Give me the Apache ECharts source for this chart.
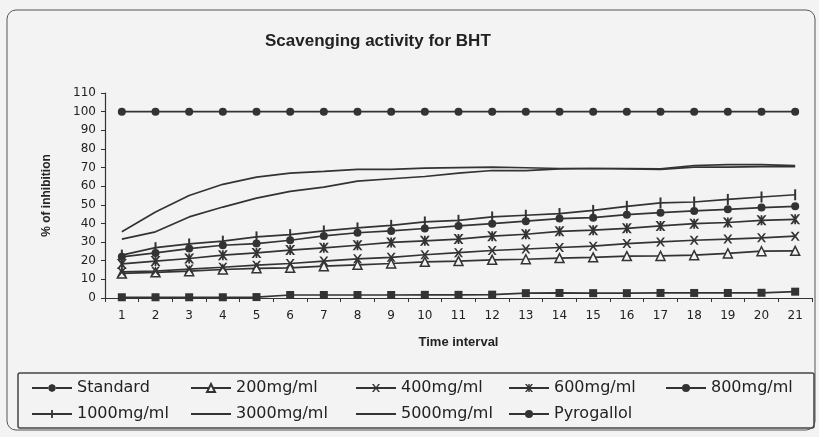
<!DOCTYPE html>
<html>
<head>
<meta charset="utf-8">
<script src="https://cdn.jsdelivr.net/npm/echarts@6/dist/echarts.min.js"></script>
<style>
html,body{margin:0;padding:0;background:#f3f3f3;}
#c{width:819px;height:437px;}
</style>
</head>
<body>
<div id="c"></div>
<script>
var categories = ['1','2','3','4','5','6','7','8','9','10','11','12','13','14','15','16','17','18','19','20','21'];
var yTicks = [0,10,20,30,40,50,60,70,80,90,100,110];
var standard = [0.4,0.4,0.4,0.4,0.5,1.6,1.6,1.6,1.6,1.7,1.7,1.8,2.6,2.7,2.6,2.6,2.7,2.7,2.7,2.8,3.4];
var c200 = [13.2,13.8,14.4,15.3,15.9,16.2,17.1,17.8,18.5,19.4,19.8,20.5,20.8,21.4,21.8,22.5,22.6,23.0,23.9,25.1,25.3];
var c400 = [14.0,14.5,15.5,16.5,17.6,18.5,19.8,21.0,21.8,23.2,24.3,25.5,26.3,27.1,27.8,29.2,30.1,31.0,31.6,32.3,33.2];
var c600 = [18.3,19.8,21.2,23.0,24.2,25.7,26.9,28.3,29.8,30.7,31.6,33.2,34.2,35.8,36.4,37.4,38.7,39.9,40.5,41.7,42.2];
var c800 = [22.1,24.2,26.5,28.3,29.2,31.0,33.3,35.0,36.0,37.3,38.7,39.9,41.2,42.6,43.1,44.7,45.8,46.7,47.6,48.5,49.2];
var c1000 = [23.0,27.0,29.0,30.5,32.8,34.0,36.0,37.6,39.0,40.8,41.7,43.5,44.4,45.3,47.0,49.2,51.0,51.5,52.9,54.2,55.4];
var c3000 = [31.6,35.5,43.5,48.8,53.6,57.2,59.5,62.7,64.0,65.2,67.0,68.4,68.4,69.3,69.5,69.3,69.0,70.2,70.2,70.5,70.5];
var c5000 = [35.5,46.2,55.0,61.0,64.9,67.0,67.9,69.0,69.0,69.7,70.0,70.2,69.9,69.5,69.5,69.5,69.3,71.1,71.6,71.6,71.0];
var pyrogallol = [100,100,100,100,100,100,100,100,100,100,100,100,100,100,100,100,100,100,100,100,100];
var names = ['Standard','200mg/ml','400mg/ml','600mg/ml','800mg/ml','1000mg/ml','3000mg/ml','5000mg/ml','Pyrogallol'];

var ink = '#333333';
var xPath = 'path://M0,0 L2.2,0 L5,3.6 L7.8,0 L10,0 L6.2,5 L10,10 L7.8,10 L5,6.4 L2.2,10 L0,10 L3.8,5 Z';
var starPath = 'path://M0,0 L2.2,0 L5,3.6 L7.8,0 L10,0 L6.2,5 L10,10 L7.8,10 L5,6.4 L2.2,10 L0,10 L3.8,5 Z M4.1,0 L5.9,0 L5.9,10 L4.1,10 Z';
var frame = ' M0,0 L0.01,0 L0.01,0.01 Z M0,10 L0.01,10 L0.01,9.99 Z';
var plainLineIcon = 'path://M0,4.1 L40,4.1 L40,5.9 L0,5.9 Z' + frame;
var tickLineIcon = 'path://M0,4.1 L40,4.1 L40,5.9 L0,5.9 Z M19.1,1 L20.9,1 L20.9,9 L19.1,9 Z' + frame;
var dotLineIcon = 'path://M0,4.1 L16,4.1 L16,5.9 L0,5.9 Z M24,4.1 L40,4.1 L40,5.9 L24,5.9 Z M24,5 L22.83,7.83 L20,9 L17.17,7.83 L16,5 L17.17,2.17 L20,1 L22.83,2.17 Z' + frame;

function mk(name, data, symbol, size, extra) {
  var s = {
    name: name, type: 'line', data: data,
    symbol: symbol, symbolSize: size,
    showSymbol: symbol !== 'none',
    lineStyle: {color: ink, width: 1.7},
    itemStyle: {color: ink, borderColor: ink, borderWidth: 0},
    emphasis: {disabled: true},
    animation: false
  };
  if (extra) { for (var k in extra) s[k] = extra[k]; }
  return s;
}

var series = [
  mk(names[0], standard, 'rect', 8),
  mk(names[1], c200, 'triangle', 9, {itemStyle: {color: '#f3f3f3', borderColor: ink, borderWidth: 1.5}}),
  mk(names[2], c400, xPath, 9),
  mk(names[3], c600, starPath, 10),
  mk(names[4], c800, 'circle', 8),
  mk(names[5], c1000, 'rect', [2, 11]),
  mk(names[6], c3000, 'none', 0),
  mk(names[7], c5000, 'none', 0),
  mk(names[8], pyrogallol, 'circle', 8)
];

var iconStyle = {color: ink, opacity: 1, borderWidth: 0};

function leg(left, data) {
  return {
    orient: 'vertical', left: left, top: 380,
    data: data, itemWidth: 40, itemHeight: 10, itemGap: 10,
    selectedMode: false,
    textStyle: {fontFamily: 'DejaVu Sans', fontSize: 16, color: '#222', lineHeight: 16},
    padding: 0
  };
}

var chart = echarts.init(document.getElementById('c'), null, {renderer: 'canvas'});
chart.setOption({
  backgroundColor: '#f3f3f3',
  animation: false,
  title: {
    text: 'Scavenging activity for BHT',
    left: 260, top: 28,
    textStyle: {fontFamily: 'Liberation Sans', fontWeight: 'bold', fontSize: 17, color: '#222'}
  },
  legend: [
    leg(32, [{name: names[0], icon: dotLineIcon, itemStyle: iconStyle}, {name: names[5], icon: tickLineIcon, itemStyle: iconStyle}]),
    leg(190, [names[1], {name: names[6], icon: plainLineIcon, itemStyle: iconStyle}]),
    leg(355, [names[2], {name: names[7], icon: plainLineIcon, itemStyle: iconStyle}]),
    leg(508, [names[3], names[8]]),
    leg(665, [names[4]])
  ],
  grid: {left: 105, right: 7, top: 93, bottom: 139},
  xAxis: {
    type: 'category', data: categories, boundaryGap: true,
    name: 'Time interval', nameLocation: 'middle', nameGap: 38,
    nameTextStyle: {fontFamily: 'Liberation Sans', fontWeight: 'bold', fontSize: 13, color: '#222'},
    axisLine: {lineStyle: {color: ink, width: 1.2}},
    axisTick: {show: true, length: 4, lineStyle: {color: ink}},
    axisLabel: {fontFamily: 'DejaVu Sans', fontSize: 12, color: '#222', margin: 12}
  },
  yAxis: {
    type: 'value', min: yTicks[0], max: yTicks[yTicks.length - 1], interval: 10,
    name: '% of inhibition', nameLocation: 'middle', nameGap: 52,
    nameTextStyle: {fontFamily: 'Liberation Sans', fontWeight: 'bold', fontSize: 12, color: '#222'},
    axisLine: {show: true, lineStyle: {color: ink, width: 1.2}},
    axisTick: {show: true, length: 4, lineStyle: {color: ink}},
    splitLine: {show: false},
    axisLabel: {fontFamily: 'DejaVu Sans', fontSize: 12, color: '#222', margin: 9}
  },
  graphic: [
    {type: 'rect', shape: {x: 7, y: 10, width: 808, height: 420, r: 9}, style: {fill: 'none', stroke: '#555', lineWidth: 1}, silent: true, z: -1},
    {type: 'rect', shape: {x: 18, y: 373, width: 796, height: 55, r: 2}, style: {fill: 'none', stroke: '#444', lineWidth: 1.5}, silent: true, z: -1}
  ],
  series: series
});
</script>
</body>
</html>
